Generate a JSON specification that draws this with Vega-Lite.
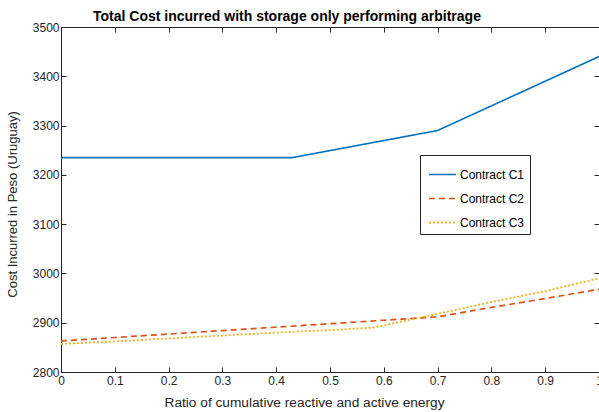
{
  "$schema": "https://vega.github.io/schema/vega-lite/v6.json",
  "width": 538,
  "height": 345,
  "autosize": {"type": "none"},
  "padding": {"left": 61, "top": 27, "right": 0, "bottom": 40},
  "background": "white",
  "config": {
    "font": "Liberation Sans",
    "view": {"stroke": null},
    "axis": {
      "domainColor": "#262626",
      "tickColor": "#262626",
      "labelColor": "#262626",
      "titleColor": "#262626",
      "labelFont": "Liberation Sans",
      "titleFont": "Liberation Sans",
      "labelFontSize": 12,
      "titleFontSize": 13,
      "titleFontWeight": "normal",
      "grid": false,
      "tickSize": -5,
      "domainWidth": 1
    }
  },
  "title": {
    "text": "Total Cost incurred with storage only performing arbitrage",
    "fontSize": 14,
    "fontWeight": "bold",
    "font": "Liberation Sans",
    "color": "#000000",
    "anchor": "middle",
    "dx": -43,
    "offset": -3
  },
  "data": {
    "values": [
      {"ratio": 0, "cost": 3235, "contract": "Contract C1"},
      {"ratio": 0.43, "cost": 3235, "contract": "Contract C1"},
      {"ratio": 0.7, "cost": 3290, "contract": "Contract C1"},
      {"ratio": 1, "cost": 3440, "contract": "Contract C1"},
      {"ratio": 0, "cost": 2863, "contract": "Contract C2"},
      {"ratio": 0.1, "cost": 2870, "contract": "Contract C2"},
      {"ratio": 0.2, "cost": 2877, "contract": "Contract C2"},
      {"ratio": 0.3, "cost": 2884, "contract": "Contract C2"},
      {"ratio": 0.4, "cost": 2891, "contract": "Contract C2"},
      {"ratio": 0.5, "cost": 2898, "contract": "Contract C2"},
      {"ratio": 0.6, "cost": 2905, "contract": "Contract C2"},
      {"ratio": 0.7, "cost": 2912, "contract": "Contract C2"},
      {"ratio": 0.8, "cost": 2931, "contract": "Contract C2"},
      {"ratio": 0.9, "cost": 2949, "contract": "Contract C2"},
      {"ratio": 1, "cost": 2968, "contract": "Contract C2"},
      {"ratio": 0, "cost": 2857, "contract": "Contract C3"},
      {"ratio": 0.1, "cost": 2862, "contract": "Contract C3"},
      {"ratio": 0.2, "cost": 2868, "contract": "Contract C3"},
      {"ratio": 0.3, "cost": 2874, "contract": "Contract C3"},
      {"ratio": 0.4, "cost": 2880, "contract": "Contract C3"},
      {"ratio": 0.5, "cost": 2885, "contract": "Contract C3"},
      {"ratio": 0.58, "cost": 2890, "contract": "Contract C3"},
      {"ratio": 0.7, "cost": 2918, "contract": "Contract C3"},
      {"ratio": 0.8, "cost": 2942, "contract": "Contract C3"},
      {"ratio": 0.9, "cost": 2964, "contract": "Contract C3"},
      {"ratio": 1, "cost": 2990, "contract": "Contract C3"}
    ]
  },
  "layer": [
    {
      "mark": {"type": "line", "clip": true},
      "encoding": {
        "x": {
          "field": "ratio", "type": "quantitative",
          "scale": {"domain": [0, 1], "nice": false},
          "axis": {"values": [0, 0.1, 0.2, 0.3, 0.4, 0.5, 0.6, 0.7, 0.8, 0.9, 1], "format": "~g", "title": "Ratio of cumulative reactive and active energy", "titleFontSize": 13.7, "labelPadding": 8, "titleX": 243, "titleY": 23, "titleAnchor": "middle", "titleAlign": "center", "labelFlush": false}
        },
        "y": {
          "field": "cost", "type": "quantitative",
          "scale": {"domain": [2800, 3500], "nice": false, "zero": false},
          "axis": {"values": [2800, 2900, 3000, 3100, 3200, 3300, 3400, 3500], "format": "d", "title": "Cost Incurred in Peso (Uruguay)", "labelPadding": 7, "titleY": 177, "titleX": -42, "titleAnchor": "middle", "titleAlign": "center", "labelFlush": false}
        },
        "color": {
          "field": "contract", "type": "nominal",
          "scale": {"domain": ["Contract C1", "Contract C2", "Contract C3"], "range": ["#0072BD", "#D95319", "#EDB120"]},
          "legend": {
            "orient": "none", "legendX": 359, "legendY": 128,
            "title": null,
            "strokeColor": "#262626", "fillColor": "white",
            "padding": 5, "rowPadding": 3,
            "symbolType": "stroke", "symbolSize": 729, "symbolStrokeWidth": 2,
            "symbolOffset": 3,
            "labelFontSize": 12, "labelColor": "#000000", "labelFont": "Liberation Sans",
            "labelOffset": 3
          }
        },
        "strokeDash": {
          "field": "contract", "type": "nominal",
          "scale": {"domain": ["Contract C1", "Contract C2", "Contract C3"], "range": [[1, 0], [6, 4], [2, 2]]},
          "legend": null
        },
        "strokeWidth": {
          "field": "contract", "type": "nominal",
          "scale": {"domain": ["Contract C1", "Contract C2", "Contract C3"], "range": [1.6, 1.8, 3]},
          "legend": null
        }
      }
    },
    {
      "mark": {"type": "point", "opacity": 0},
      "encoding": {
        "x": {"field": "ratio", "type": "quantitative", "axis": {"orient": "top", "values": [0, 0.1, 0.2, 0.3, 0.4, 0.5, 0.6, 0.7, 0.8, 0.9, 1], "labels": false, "title": null}},
        "y": {"field": "cost", "type": "quantitative", "axis": {"orient": "right", "values": [2800, 2900, 3000, 3100, 3200, 3300, 3400, 3500], "labels": false, "title": null}}
      }
    }
  ],
  "resolve": {"axis": {"x": "independent", "y": "independent"}}
}
